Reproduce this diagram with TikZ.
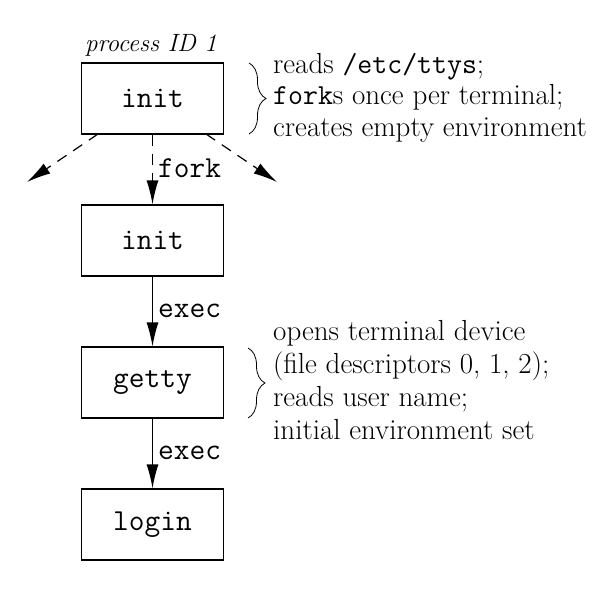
\documentclass[tikz,border=0pt]{standalone}
\usepackage{fontspec}
\usetikzlibrary{arrows.meta,decorations.pathreplacing}
\begin{document}
\begin{tikzpicture}[x=1pt,y=-1pt,
  proc/.style={draw,line width=1.2pt,minimum width=142pt,minimum height=71pt,inner sep=0pt,font=\fontsize{30.5}{32}\ttfamily},
  conn/.style={line width=1.2pt,-{Latex[length=24pt,width=12pt]}},
  dconn/.style={conn,dash pattern=on 11pt off 8pt},
  lab/.style={anchor=west,inner sep=0pt,font=\fontsize{30.5}{32}\ttfamily},
  note/.style={anchor=west,align=left,inner sep=0pt,font=\fontsize{29}{31.5}\selectfont},
  brc/.style={decorate,decoration={brace,amplitude=17pt,aspect=0.5},line width=0.8pt}]
\useasboundingbox (0,0) rectangle (616,595);
\node[proc] (init1) at (152.5,98.5) {init};
\node[proc] (init2) at (152.5,240.5) {init};
\node[proc] (getty) at (152.5,382.5) {getty};
\node[proc] (login) at (152.5,524.5) {login};
\node[inner sep=0pt,font=\fontsize{25}{28}\selectfont\itshape] (pid) at (151,45) {process ID 1};
\coordinate (l1) at (98,134);
\coordinate (r1) at (206,134);
\coordinate (lt) at (27,182);
\coordinate (rt) at (277,182);
\draw[dconn] (l1) -- (lt);
\draw[dconn] (r1) -- (rt);
\draw[dconn] (init1) -- (init2);
\draw[conn] (init2) -- (getty);
\draw[conn] (getty) -- (login);
\node[lab] (fork) at (158,168) {fork};
\node[lab] (exec1) at (158,311) {exec};
\node[lab] (exec2) at (158,453) {exec};
\coordinate (b1t) at (249,63);
\coordinate (b1b) at (249,134);
\draw[brc] (b1t) -- (b1b);
\coordinate (b2t) at (248,348);
\coordinate (b2b) at (248,418);
\draw[brc] (b2t) -- (b2b);
\node[note] (n1) at (273,97.5) {reads \texttt{/etc/ttys};\\\texttt{fork}s once per terminal;\\creates empty environment};
\node[note,font=\fontsize{29}{33}\selectfont] (n2) at (273,380) {opens terminal device\\(file descriptors 0, 1, 2);\\reads user name;\\initial environment set};
\end{tikzpicture}
\end{document}
